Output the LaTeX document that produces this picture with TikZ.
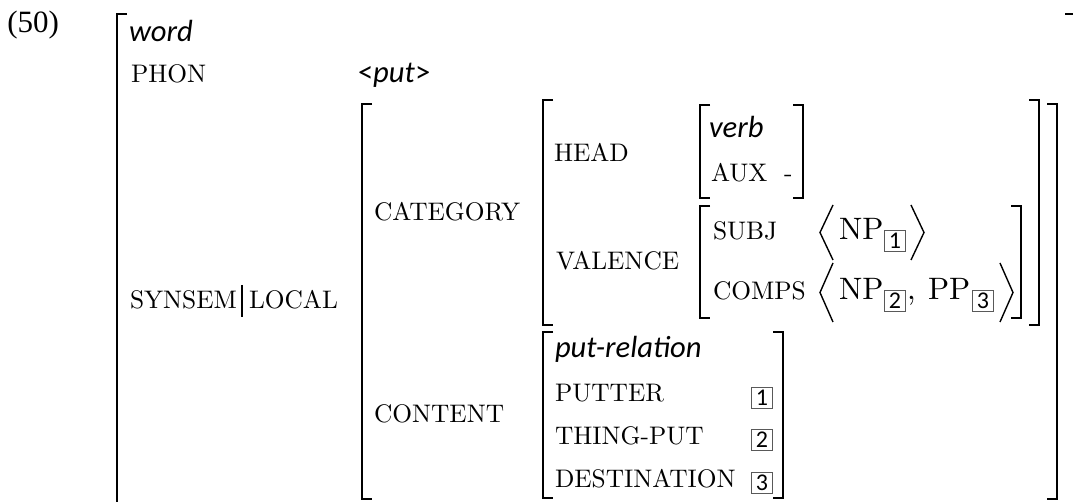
\documentclass[tikz,border=0pt]{standalone}
\usepackage{fontspec}
\setmainfont{lmroman10-regular.otf}
\newfontfamily\carl{Carlito}[UprightFont={Carlito Regular},ItalicFont={Carlito Italic}]
\newfontfamily\tms{Liberation Serif}
\newcommand\LBk[3]{\draw[brk] (#1+10,#2) -- (#1,#2) -- (#1,#3) -- (#1+10,#3);}
\newcommand\RBk[3]{\draw[brk] (#1-10,#2) -- (#1,#2) -- (#1,#3) -- (#1-10,#3);}
\begin{document}
\begin{tikzpicture}[x=0.5pt,y=-0.5pt,
  lbl/.style={anchor=base west,inner sep=0,outer sep=0,font=\fontsize{12.7}{14}\selectfont},
  typ/.style={anchor=base west,inner sep=0,outer sep=0,font=\carl\itshape\fontsize{15.3}{18}\selectfont},
  big/.style={anchor=base west,inner sep=0,outer sep=0,font=\fontsize{15.5}{18}\selectfont},
  tag/.style={draw=black!65,line width=0.4pt,minimum width=10.2pt,minimum height=10.5pt,inner sep=0,outer sep=0,font=\carl\fontsize{12}{12}\selectfont},
  brk/.style={line width=1.3pt,line join=miter},
  ang/.style={line width=0.7pt,line join=miter},
  bar/.style={line width=0.6pt}]
\useasboundingbox (0,0) rectangle (1073,502);
% example number
\node[anchor=base west,inner sep=0,font=\tms\fontsize{15.5}{18}\selectfont] (num) at (7,33) {(50)};
% outer brackets
\draw[brk] (127,14) -- (117,14) -- (117,512);
\draw[brk] (1065,14) -- (1075,14);
% top level
\node[typ] (word) at (129,42) {word};
\node[lbl] (phon) at (131,83) {PHON};
\node[anchor=base west,inner sep=0,outer sep=0,font=\carl\fontsize{15.3}{18}\selectfont] (put) at (358,83) {<\textit{put}>};
\node[lbl] (synsem) at (130,309) {SYNSEM};
\draw[bar] (242,285) -- (242,317);
\node[lbl] (local) at (249,309) {LOCAL};
% LOCAL value
\LBk{362}{104}{499}
\RBk{1057}{104}{499}
\node[lbl] (cat) at (374,221) {CATEGORY};
\node[lbl] (cont) at (374,423) {CONTENT};
% CATEGORY value
\LBk{543}{100}{325}
\RBk{1039}{100}{325}
\node[lbl] (head) at (554,162) {HEAD};
\node[lbl] (val) at (556,270) {VALENCE};
% HEAD value
\LBk{700}{105}{198}
\RBk{803}{105}{198}
\node[typ] (verb) at (709,138) {verb};
\node[lbl] (aux) at (711,182) {AUX};
\node[lbl] (auxv) at (784,182) {-};
% VALENCE value
\LBk{700}{206}{318}
\RBk{1021}{206}{318}
\node[lbl] (subj) at (713,240) {SUBJ};
\node[lbl] (comps) at (713,300) {COMPS};
\draw[ang] (833,205) -- (820,232.5) -- (833,260);
\node[big] (np1) at (839,240) {NP};
\node[tag] (t1a) at (895,241) {1};
\draw[ang] (911,205) -- (924,232.5) -- (911,260);
\draw[ang] (833,263) -- (820,292.5) -- (833,322);
\node[big] (np2) at (839,300) {NP};
\node[tag] (t2a) at (895,301) {2};
\node[big] (comma) at (907,300) {,};
\node[big] (pp3) at (928,300) {PP};
\node[tag] (t3a) at (983,301) {3};
\draw[ang] (1000,263) -- (1013,292.5) -- (1000,322);
% CONTENT value
\LBk{543}{332}{498}
\RBk{783}{332}{498}
\node[typ] (rel) at (555,358) {put-relation};
\node[lbl] (putter) at (555,402) {PUTTER};
\node[lbl] (thing) at (555,445) {THING-PUT};
\node[lbl] (dest) at (555,488) {DESTINATION};
\node[tag] (t1b) at (762,398) {1};
\node[tag] (t2b) at (762,440) {2};
\node[tag] (t3b) at (762,483) {3};
\end{tikzpicture}
\end{document}
